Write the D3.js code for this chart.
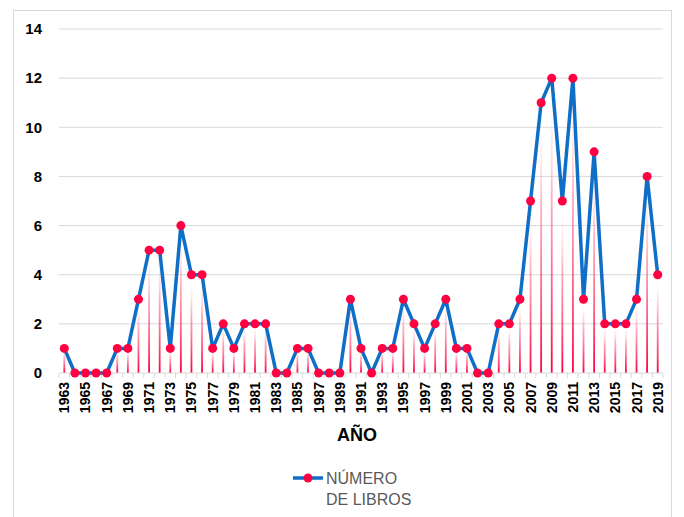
<!DOCTYPE html>
<html>
<head>
<meta charset="utf-8">
<script src="https://cdn.jsdelivr.net/npm/d3@7"></script>
<style>
  body { margin: 0; background: #fff; }
  svg { display: block; font-family: "Liberation Sans", Arial, sans-serif; }
</style>
</head>
<body>
<div id="chart"></div>
<script>
// Libros publicados por año
const years = d3.range(1963, 2020);
const libros = [
  1, 0, 0, 0, 0, 1, 1, 3, 5, 5,   // 1963-1972
  1, 6, 4, 4, 1, 2, 1, 2, 2, 2,   // 1973-1982
  0, 0, 1, 1, 0, 0, 0, 3, 1, 0,   // 1983-1992
  1, 1, 3, 2, 1, 2, 3, 1, 1, 0,   // 1993-2002
  0, 2, 2, 3, 7, 11, 12, 7, 12, 3, // 2003-2012
  9, 2, 2, 2, 3, 8, 4             // 2013-2019
];
const yTicks = [0, 2, 4, 6, 8, 10, 12, 14];
const seriesName = ['NÚMERO', 'DE LIBROS'];

const data = years.map((y, i) => ({ year: y, value: libros[i] }));

const W = 684, H = 517;
const margin = { left: 59, right: 21, top: 29, bottom: 144 };

const svg = d3.select('#chart').append('svg')
  .attr('width', W)
  .attr('height', H);

// chart frame
svg.append('rect')
  .attr('x', 13.5).attr('y', 10.5)
  .attr('width', 658).attr('height', 520)
  .attr('fill', 'none')
  .attr('stroke', '#d9d9d9');

const x = d3.scaleBand()
  .domain(years)
  .range([margin.left, W - margin.right]);

const y = d3.scaleLinear()
  .domain([0, 14])
  .range([H - margin.bottom, margin.top]);

const cx = d => x(d.year) + x.bandwidth() / 2;

// gridlines
svg.append('g')
  .selectAll('line')
  .data(yTicks.filter(t => t > 0))
  .join('line')
  .attr('x1', margin.left).attr('x2', W - margin.right)
  .attr('y1', d => y(d)).attr('y2', d => y(d))
  .attr('stroke', '#d9d9d9')
  .attr('stroke-width', 1);

// y axis labels
const yAxis = svg.append('g')
  .attr('transform', `translate(${margin.left - 17},0)`)
  .call(d3.axisLeft(y).tickValues(yTicks).tickSize(0).tickPadding(0));
yAxis.select('.domain').remove();
yAxis.selectAll('text')
  .attr('font-family', '"Liberation Sans", Arial, sans-serif')
  .attr('font-size', 15)
  .attr('font-weight', 700)
  .attr('fill', '#000');

// drop-line gradient
const defs = svg.append('defs');
const grad = defs.append('linearGradient')
  .attr('id', 'dropGrad')
  .attr('x1', 0).attr('y1', 1).attr('x2', 0).attr('y2', 0);
grad.append('stop').attr('offset', '0%').attr('stop-color', '#ff0040').attr('stop-opacity', 1);
grad.append('stop').attr('offset', '60%').attr('stop-color', '#ff5a80').attr('stop-opacity', 0.5);
grad.append('stop').attr('offset', '100%').attr('stop-color', '#ffffff').attr('stop-opacity', 0);

svg.append('g')
  .selectAll('rect')
  .data(data.filter(d => d.value > 0))
  .join('rect')
  .attr('x', d => cx(d) - 0.9)
  .attr('width', 1.8)
  .attr('y', d => y(d.value))
  .attr('height', d => y(0) - y(d.value))
  .attr('fill', 'url(#dropGrad)');

// x axis baseline + category ticks
svg.append('line')
  .attr('x1', margin.left).attr('x2', W - margin.right)
  .attr('y1', y(0)).attr('y2', y(0))
  .attr('stroke', '#d9d9d9');

svg.append('g')
  .selectAll('line')
  .data(years.concat([2020]))
  .join('line')
  .attr('x1', d => d === 2020 ? W - margin.right : x(d))
  .attr('x2', d => d === 2020 ? W - margin.right : x(d))
  .attr('y1', y(0)).attr('y2', y(0) + 5)
  .attr('stroke', '#d9d9d9');

// x tick labels (odd years)
svg.append('g')
  .selectAll('text')
  .data(years.filter(v => v % 2 === 1))
  .join('text')
  .attr('transform', d => `translate(${x(d) + x.bandwidth() / 2 + 5},${y(0) + 9}) rotate(-90)`)
  .attr('text-anchor', 'end')
  .attr('font-size', 14)
  .attr('font-weight', 700)
  .attr('fill', '#000')
  .text(d => d);

// series line
const line = d3.line()
  .x(cx)
  .y(d => y(d.value));

svg.append('path')
  .datum(data)
  .attr('d', line)
  .attr('fill', 'none')
  .attr('stroke', '#0f6fc6')
  .attr('stroke-width', 3.5)
  .attr('stroke-linejoin', 'round');

svg.append('g')
  .selectAll('circle')
  .data(data)
  .join('circle')
  .attr('cx', cx)
  .attr('cy', d => y(d.value))
  .attr('r', 4.5)
  .attr('fill', '#ff0040');

// axis title
svg.append('text')
  .attr('x', 357).attr('y', 441)
  .attr('text-anchor', 'middle')
  .attr('font-size', 18)
  .attr('font-weight', 700)
  .attr('fill', '#000')
  .text('AÑO');

// legend
const lg = svg.append('g').attr('transform', 'translate(293,478)');
lg.append('line')
  .attr('x1', 0).attr('x2', 30)
  .attr('stroke', '#0f6fc6').attr('stroke-width', 3.5);
lg.append('circle')
  .attr('cx', 15).attr('r', 4.5).attr('fill', '#ff0040');
lg.selectAll('text.lab')
  .data(seriesName)
  .join('text')
  .attr('class', 'lab')
  .attr('x', 33)
  .attr('y', (d, i) => 6 + i * 21)
  .attr('font-size', 16)
  .attr('fill', '#595959')
  .text(d => d);
</script>
</body>
</html>
